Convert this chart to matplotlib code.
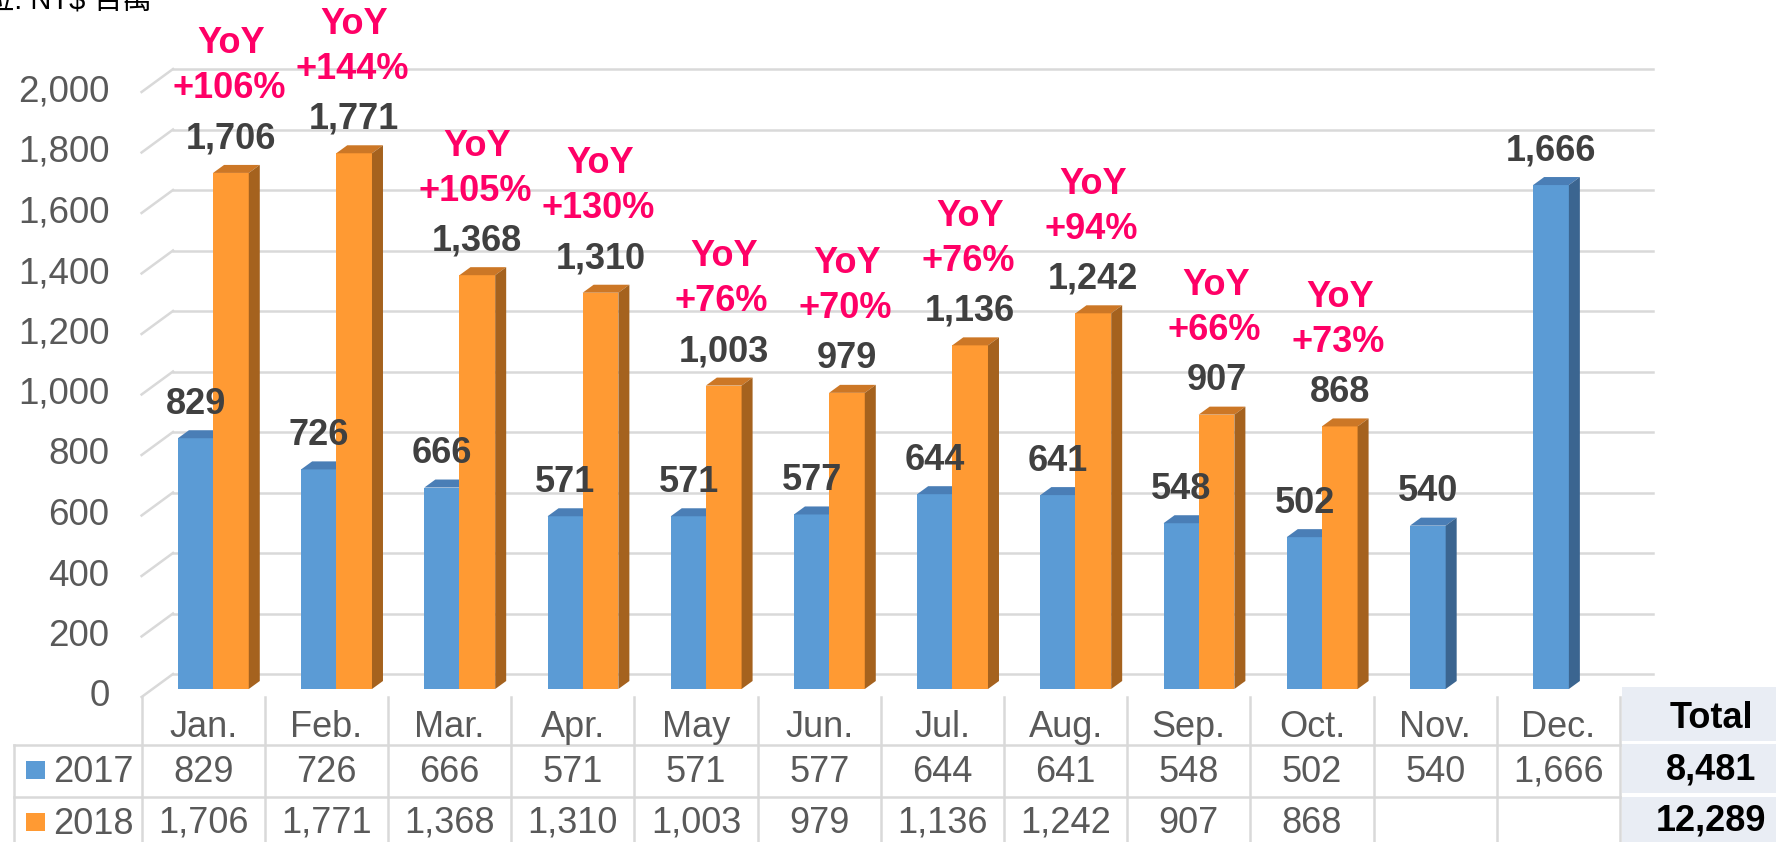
import matplotlib
matplotlib.use("Agg")
import matplotlib.pyplot as plt
from matplotlib.patches import Polygon, Rectangle

# ---- data (NT$ millions) ----
months = ["Jan.", "Feb.", "Mar.", "Apr.", "May", "Jun.",
          "Jul.", "Aug.", "Sep.", "Oct.", "Nov.", "Dec."]
series_names = ["2017", "2018"]
sales_2017 = [829, 726, 666, 571, 571, 577, 644, 641, 548, 502, 540, 1666]
sales_2018 = [1706, 1771, 1368, 1310, 1003, 979, 1136, 1242, 907, 868]
yoy_pct = [106, 144, 105, 130, 76, 70, 76, 94, 66, 73]
totals = [8481, 12289]
y_ticks = list(range(0, 2001, 200))
unit_label = "單位: NT$ 百萬"

plt.rcParams['font.family'] = ['Liberation Sans', 'Noto Sans CJK TC']

# ---- layout (pixels of the 1776x842 canvas) ----
W, H = 1776, 842
X0_PX = 141.6     # left edge of first category
CAT_PX = 123.2    # category width
BASE_PX = 689     # baseline of bar front faces
VAL_PX = 0.3025   # pixels per unit


def px_x(p):
    return p / CAT_PX


def px_y(p):
    return p / VAL_PX


BLUE = ('#5B9BD5', '#4A7EB6', '#3B6590')     # front, top, side
ORANGE = ('#FF9A33', '#CC7726', '#A5621E')
GRID = '#D9D9D9'
GREY_TXT = '#595959'
LABEL_TXT = '#404040'
YOY_TXT = '#FF0066'

DX, DY = px_x(11), px_y(8)           # bar depth
BLUE_OFF, ORANGE_OFF, BAR_W = 0.295, 0.58, 0.29

fig = plt.figure(figsize=(W / 100, H / 100), dpi=100)
ax = fig.add_axes([0, 0, 1, 1])
ax.set_xlim(-X0_PX / CAT_PX, (W - X0_PX) / CAT_PX)
ax.set_ylim(-(H - BASE_PX) / VAL_PX, BASE_PX / VAL_PX)
ax.axis('off')

# back wall gridlines + side wall diagonals
back_l, back_r = px_x(31.4), px_x(1653 - X0_PX)
for g in y_ticks:
    gb = g + px_y(15)
    gf = g - px_y(8)
    ax.plot([back_l, back_r], [gb, gb], color=GRID, lw=1.8, zorder=1)
    ax.plot([0, back_l], [gf, gb], color=GRID, lw=1.8, zorder=1)
    ax.text(px_x(-32), gf, f"{g:,}", ha='right', va='center',
            fontsize=26.5, color=GREY_TXT)


def bar3d(x0, h, colors):
    front, top, side = colors
    x1 = x0 + BAR_W
    ax.add_patch(Rectangle((x0, 0), BAR_W, h, fc=front, ec='none', zorder=3))
    ax.add_patch(Polygon([(x0, h), (x1, h), (x1 + DX, h + DY), (x0 + DX, h + DY)],
                         closed=True, fc=top, ec='none', zorder=3))
    ax.add_patch(Polygon([(x1, 0), (x1 + DX, DY), (x1 + DX, h + DY), (x1, h)],
                         closed=True, fc=side, ec='none', zorder=3))


lbl = dict(ha='center', va='center', fontsize=26, fontweight='bold',
           textcoords='offset pixels', zorder=6)
for i, v in enumerate(sales_2017):
    bar3d(i + BLUE_OFF, v, BLUE)
    if i < len(sales_2018):
        bar3d(i + ORANGE_OFF, sales_2018[i], ORANGE)

for i, v in enumerate(sales_2017):
    ax.annotate(f"{v:,}", (i + BLUE_OFF + BAR_W / 2, v), xytext=(0, 34),
                color=LABEL_TXT, **lbl)
for i, v in enumerate(sales_2018):
    xc = i + ORANGE_OFF + BAR_W / 2
    ax.annotate(f"{v:,}", (xc, v), xytext=(0, 34), color=LABEL_TXT, **lbl)
    ax.annotate(f"+{yoy_pct[i]}%", (xc, v), xytext=(-2, 84), color=YOY_TXT, **lbl)
    ax.annotate("YoY", (xc, v), xytext=(0, 129), color=YOY_TXT, **lbl)

fig.text(152 / W, 1 - 10 / H, unit_label, ha='right', va='baseline',
         fontsize=21, color='#000000')

# ---- data table under the chart ----
axt = fig.add_axes([0, 0, 1, 158 / H])
axt.set_xlim(ax.get_xlim())
axt.set_ylim((H - 693) / 52, -9 / 52)
axt.axis('off')

left_x = px_x(14 - X0_PX)
n = len(months)
for r in (1, 2):
    axt.plot([left_x, n], [r, r], color=GRID, lw=1.8)
axt.plot([left_x, left_x], [1, 3], color=GRID, lw=1.8)
for k in range(n + 1):
    axt.plot([k, k], [0.08, 3], color=GRID, lw=1.8)

for i, m in enumerate(months):
    axt.text(i + 0.5, 0.85, m, ha='center', va='baseline', fontsize=26, color=GREY_TXT)
for i, v in enumerate(sales_2017):
    axt.text(i + 0.5, 1.71, f"{v:,}", ha='center', va='baseline', fontsize=26, color=GREY_TXT)
for i, v in enumerate(sales_2018):
    axt.text(i + 0.5, 2.69, f"{v:,}", ha='center', va='baseline', fontsize=26, color=GREY_TXT)

for r, (name, col) in enumerate(zip(series_names, (BLUE[0], ORANGE[0]))):
    axt.add_patch(Rectangle((px_x(26 - X0_PX), r + 1.654), px_x(19), -0.35,
                            fc=col, ec='none'))
    axt.text(px_x(53 - X0_PX), r + 1.72, name, ha='left', va='baseline',
             fontsize=26, color=GREY_TXT)

# total column
tot_x = px_x(1622 - X0_PX)
for y0, hh in ((-0.115, 1.04), (0.98, 0.95), (2.0, 1.0)):
    axt.add_patch(Rectangle((tot_x, y0), 3, hh, fc='#E9EDF4', ec='none'))
tot_c = px_x(1711 - X0_PX)
axt.text(tot_c, 0.67, "Total", ha='center', va='baseline', fontsize=26,
         fontweight='bold', color='#000000')
for r, t in enumerate(totals):
    axt.text(tot_c, 1.67 + r * 0.98, f"{t:,}", ha='center', va='baseline',
             fontsize=26, fontweight='bold', color='#000000')

fig.savefig('out.png', dpi=100)
